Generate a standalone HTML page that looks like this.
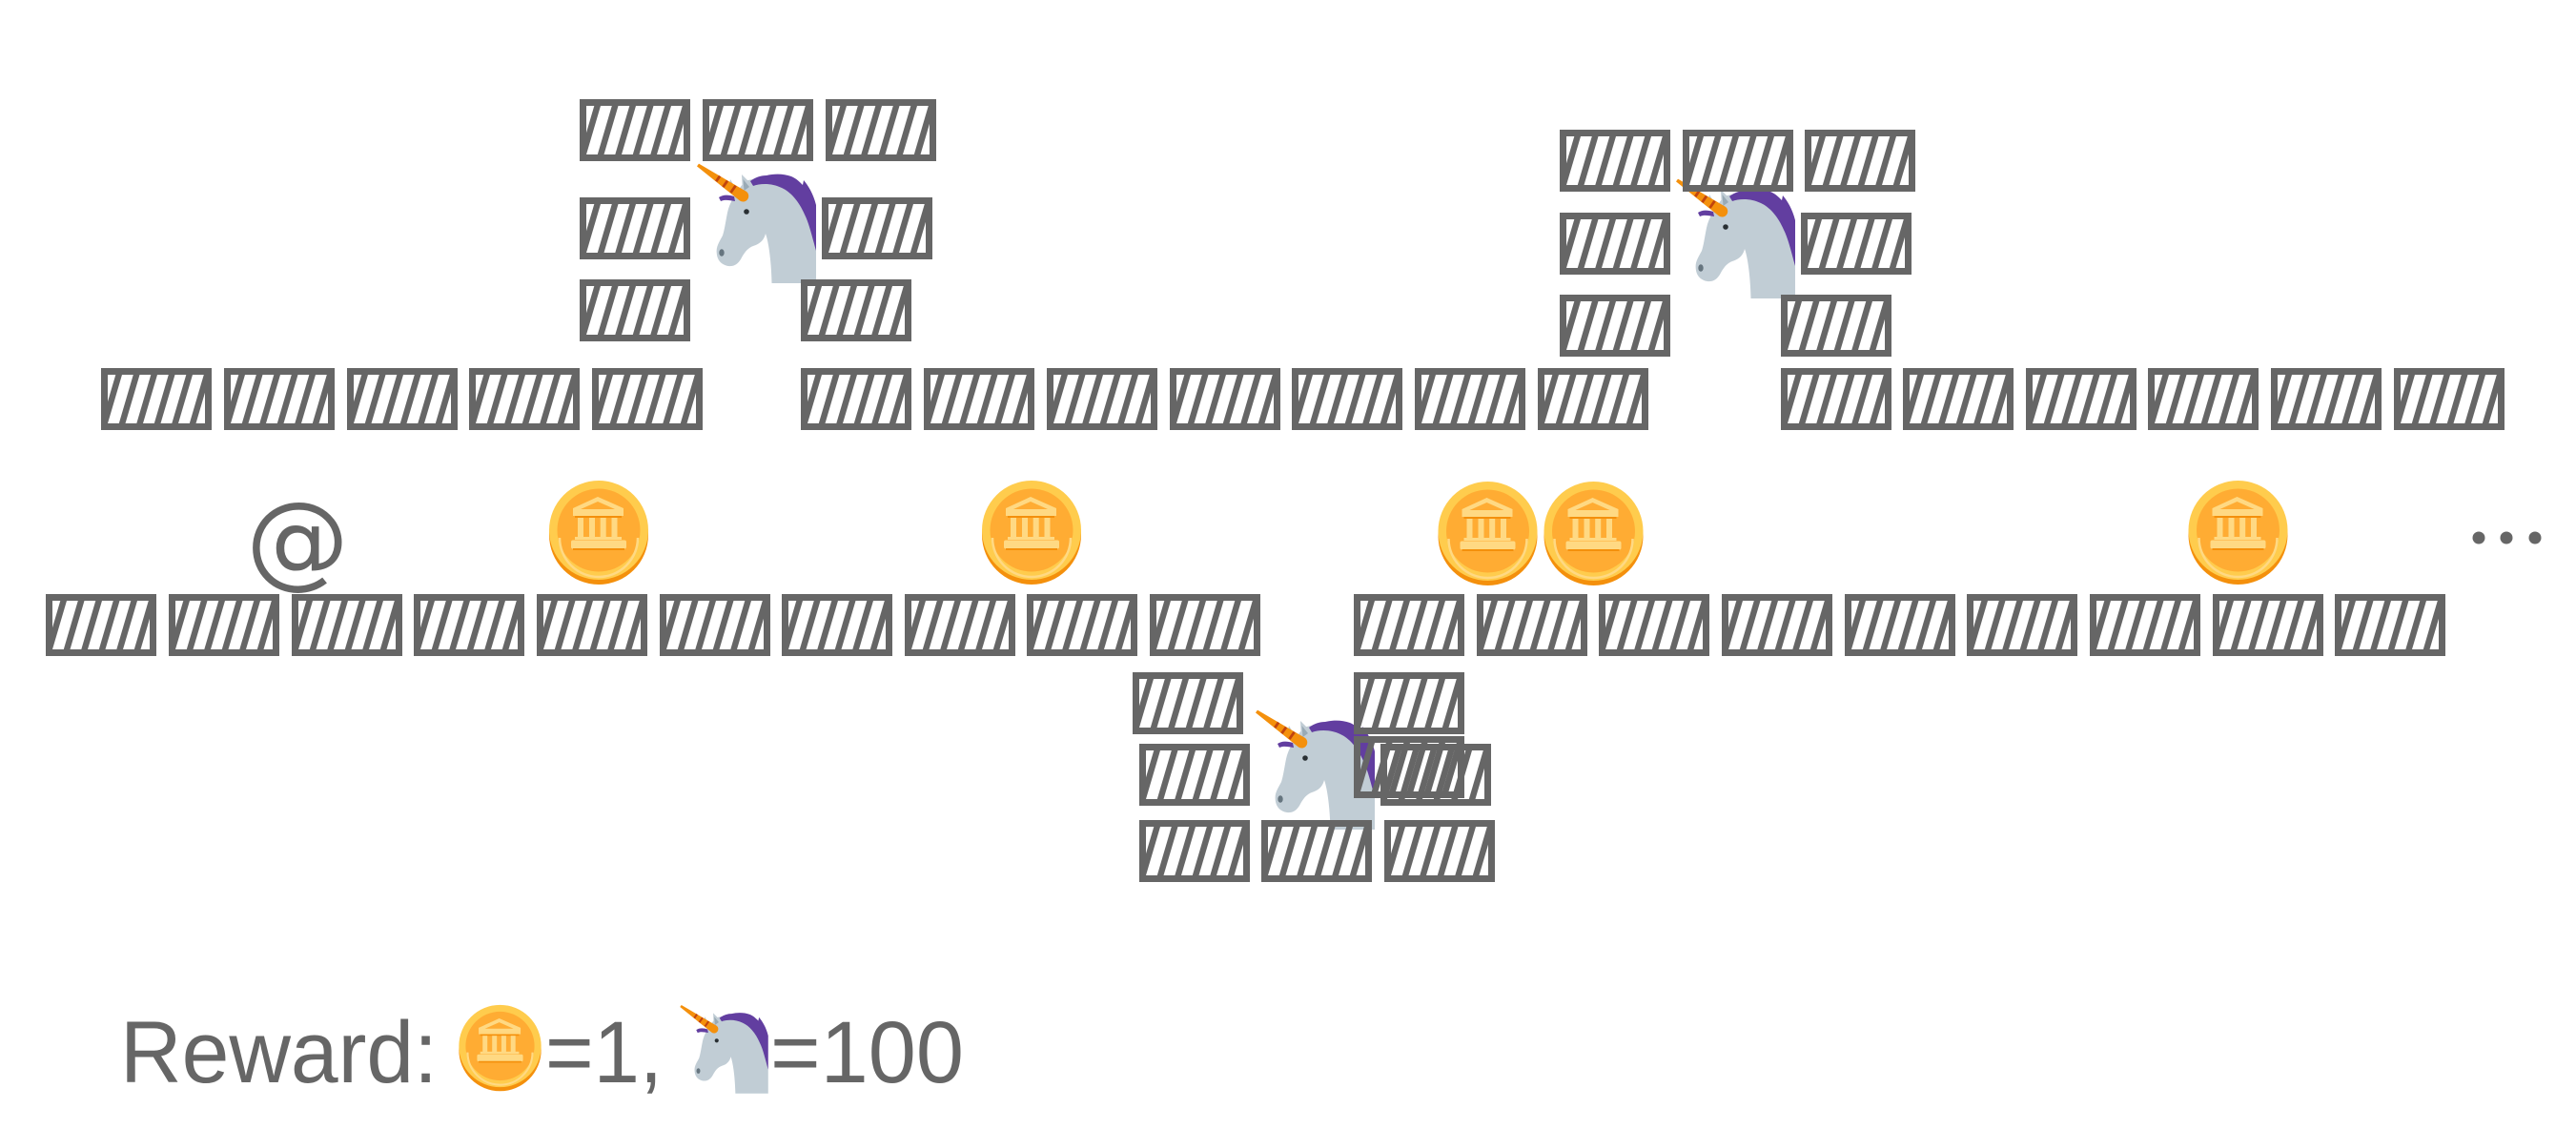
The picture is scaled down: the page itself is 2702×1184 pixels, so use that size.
<!DOCTYPE html>
<html>
<head>
<meta charset="utf-8">
<style>
  html,body{margin:0;padding:0;background:#fff;}
  svg{display:block;}
  text{font-family:"Liberation Sans","DejaVu Sans",sans-serif;fill:#666;}
</style>
</head>
<body>
<svg width="2702" height="1184" viewBox="0 0 2702 1184" xmlns="http://www.w3.org/2000/svg">
  <defs>
    <clipPath id="bc"><rect x="7" y="7" width="102" height="51"/></clipPath>
    <g id="blk">
      <g clip-path="url(#bc)" fill="#666">
        <polygon points="15.3,7 22,7 7,58 0.3,58"/>
        <polygon points="33.8,7 40.5,7 25.5,58 18.8,58"/>
        <polygon points="52.3,7 59,7 44,58 37.3,58"/>
        <polygon points="70.8,7 77.5,7 62.5,58 55.8,58"/>
        <polygon points="89.3,7 96,7 81,58 74.3,58"/>
        <polygon points="107.8,7 114.5,7 99.5,58 92.8,58"/>
      </g>
      <rect x="3.5" y="3.5" width="109" height="58" fill="none" stroke="#666" stroke-width="7"/>
    </g>

    <g id="coin">
      <circle cx="0" cy="5" r="52" fill="#F4900C"/>
      <circle cx="0" cy="0" r="52" fill="#FFCC4D"/>
      <circle cx="0" cy="0" r="43.5" fill="#FFAC33"/>
      <path d="M -41 8 A 41 41 0 0 0 41 8" fill="none" stroke="#FFD983" stroke-width="2.5"/>
      <polygon points="-1,-35 26,-23 26,-18 -27,-18 -27,-23" fill="#FFD983"/>
      <polygon points="-1,-30 17,-22 -19,-22" fill="#FFAC33"/>
      <rect x="-27" y="-18" width="53" height="3" fill="#FFD983"/>
      <rect x="-25" y="-15" width="49" height="2" fill="#F4900C"/>
      <rect x="-22" y="-13" width="6" height="22" fill="#FFD983"/>
      <rect x="-10" y="-13" width="6" height="22" fill="#FFD983"/>
      <rect x="1.7" y="-13" width="6" height="22" fill="#FFD983"/>
      <rect x="13.5" y="-13" width="6" height="22" fill="#FFD983"/>
      <rect x="-25" y="7" width="49" height="3" fill="#FFD983"/>
      <rect x="-29" y="10.5" width="58" height="9" rx="2" fill="#FFD983"/>
      <rect x="-27" y="19" width="54" height="2" fill="#F4900C"/>
    </g>

    <g id="uni">
      <!-- head/neck -->
      <path d="M 49.7 17 C 40 28 33 40 31 50 C 29 60 28 68 26 74 C 23 80 19 85 19.7 92 C 20 100 25 105 32 106 C 40 107 44 101 46 97 C 50 90 53 87 58 85 C 64 83 69 80 71 72 C 74 80 77 100 77.5 124 L 124 124 L 124 90 C 122 70 118 50 110 36 C 102 24 90 14 71 14 C 62 14 55 15 49.7 17 Z" fill="#C1CDD5"/>
      <!-- mane -->
      <path d="M 55 17 C 60 13 66 11 72 11 C 80 9 90 9 98 12 C 103 14 107 18 110 21 L 111 16 C 116 22 121 30 124 42 L 124 90 C 120 76 117 62 112 52 C 106 38 97 28 88 24 C 78 19 66 19 58 22 Z" fill="#623EA0"/>
      <path d="M 22 34 C 26 31 32 31 38 33 L 39 38 C 33 37 28 36 24 38 Z" fill="#623EA0"/>
      <!-- ears -->
      <polygon points="32,26 34,15 41,27" fill="#C1CDD5"/>
      <polygon points="47,30 46,10 59,23" fill="#C1CDD5"/>
      <polygon points="48.5,27 47.5,15 54,23" fill="#99AAB5"/>
      <!-- horn -->
      <path d="M -1 1.4 L 1 -1.4 L 50.7 27.8 A 5.8 5.8 0 0 1 44 37.5 Z" fill="#F4900C"/>
      <g stroke="#C1440E" stroke-width="2.8">
        <line x1="19.2" y1="17.2" x2="23.1" y2="11.6"/>
        <line x1="26.4" y1="23.2" x2="31.0" y2="16.6"/>
        <line x1="34.5" y1="29.0" x2="39.6" y2="21.7"/>
      </g>
      <!-- eye & nostril -->
      <circle cx="51" cy="49" r="2.8" fill="#292F33"/>
      <ellipse cx="25" cy="92" rx="2.7" ry="3.8" fill="#66757F"/>
    </g>
  </defs>

  <!-- unicorns -->
  <use href="#uni" transform="translate(732,173)"/>
  <use href="#uni" transform="translate(1759,189)"/>
  <use href="#uni" transform="translate(1318,746)"/>

  <!-- blocks -->
  <g>
    <use href="#blk" x="608" y="104"/><use href="#blk" x="737" y="104"/><use href="#blk" x="866" y="104"/>
    <use href="#blk" x="608" y="207"/><use href="#blk" x="862" y="207"/>
    <use href="#blk" x="608" y="293"/><use href="#blk" x="840" y="293"/>

    <use href="#blk" x="106" y="386"/><use href="#blk" x="235" y="386"/><use href="#blk" x="364" y="386"/>
    <use href="#blk" x="492" y="386"/><use href="#blk" x="621" y="386"/>
    <use href="#blk" x="840" y="386"/><use href="#blk" x="969" y="386"/><use href="#blk" x="1098" y="386"/>
    <use href="#blk" x="1227" y="386"/><use href="#blk" x="1355" y="386"/><use href="#blk" x="1484" y="386"/>
    <use href="#blk" x="1613" y="386"/>
    <use href="#blk" x="1868" y="386"/><use href="#blk" x="1996" y="386"/><use href="#blk" x="2125" y="386"/>
    <use href="#blk" x="2253" y="386"/><use href="#blk" x="2382" y="386"/><use href="#blk" x="2511" y="386"/>

    <use href="#blk" x="1636" y="136"/><use href="#blk" x="1765" y="136"/><use href="#blk" x="1893" y="136"/>
    <use href="#blk" x="1636" y="223"/><use href="#blk" x="1889" y="223"/>
    <use href="#blk" x="1636" y="309"/><use href="#blk" x="1868" y="309"/>

    <use href="#blk" x="48" y="623"/><use href="#blk" x="177" y="623"/><use href="#blk" x="306" y="623"/>
    <use href="#blk" x="434" y="623"/><use href="#blk" x="563" y="623"/><use href="#blk" x="692" y="623"/>
    <use href="#blk" x="820" y="623"/><use href="#blk" x="949" y="623"/><use href="#blk" x="1077" y="623"/>
    <use href="#blk" x="1206" y="623"/>
    <use href="#blk" x="1420" y="623"/><use href="#blk" x="1549" y="623"/><use href="#blk" x="1677" y="623"/>
    <use href="#blk" x="1806" y="623"/><use href="#blk" x="1935" y="623"/><use href="#blk" x="2063" y="623"/>
    <use href="#blk" x="2192" y="623"/><use href="#blk" x="2321" y="623"/><use href="#blk" x="2449" y="623"/>

    <use href="#blk" x="1188" y="705"/><use href="#blk" x="1420" y="705"/>
    <use href="#blk" x="1420" y="772"/>
    <use href="#blk" x="1195" y="780"/><use href="#blk" x="1448" y="780"/>
    <use href="#blk" x="1195" y="860"/><use href="#blk" x="1323" y="860"/><use href="#blk" x="1452" y="860"/>
  </g>

  <!-- coins -->
  <use href="#coin" transform="translate(628,556)"/>
  <use href="#coin" transform="translate(1082,556)"/>
  <use href="#coin" transform="translate(1560.5,557)"/>
  <use href="#coin" transform="translate(1671.5,557)"/>
  <use href="#coin" transform="translate(2347.5,556)"/>

  <!-- agent -->
  <text x="312" y="603" font-size="108" text-anchor="middle" style="font-family:'DejaVu Sans','Liberation Sans',sans-serif;">@</text>

  <!-- ellipsis -->
  <circle cx="2600" cy="564" r="6.5" fill="#666"/>
  <circle cx="2629" cy="564" r="6.5" fill="#666"/>
  <circle cx="2659" cy="564" r="6.5" fill="#666"/>

  <!-- legend -->
  <text x="126" y="1135" font-size="92" textLength="333" lengthAdjust="spacingAndGlyphs">Reward:</text>
  <use href="#coin" transform="translate(524.5,1097) scale(0.83)"/>
  <text x="572" y="1135" font-size="92" textLength="123" lengthAdjust="spacingAndGlyphs">=1,</text>
  <use href="#uni" transform="translate(714,1055) scale(0.74)"/>
  <text x="808" y="1135" font-size="92" textLength="203" lengthAdjust="spacingAndGlyphs">=100</text>
</svg>
</body>
</html>
